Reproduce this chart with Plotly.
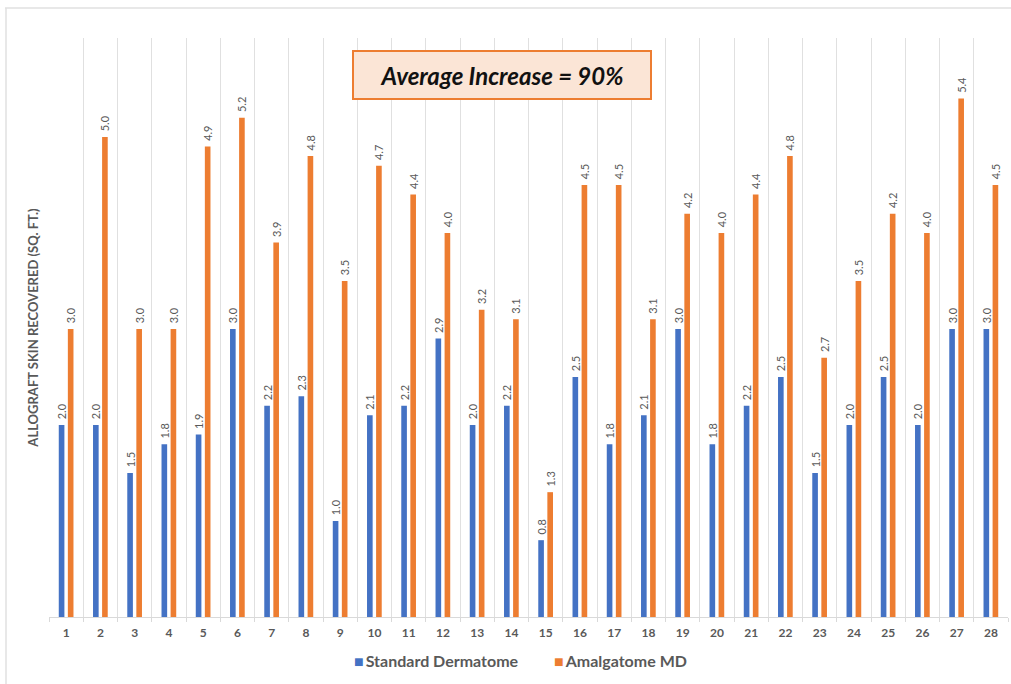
import plotly.graph_objects as go

# Case numbers and allograft area recovered (sq. ft.)
cases = list(range(1, 29))
standard_dermatome = [2.0, 2.0, 1.5, 1.8, 1.9, 3.0, 2.2, 2.3, 1.0, 2.1, 2.2, 2.9, 2.0, 2.2,
                      0.8, 2.5, 1.8, 2.1, 3.0, 1.8, 2.2, 2.5, 1.5, 2.0, 2.5, 2.0, 3.0, 3.0]
amalgatome_md = [3.0, 5.0, 3.0, 3.0, 4.9, 5.2, 3.9, 4.8, 3.5, 4.7, 4.4, 4.0, 3.2, 3.1,
                 1.3, 4.5, 4.5, 3.1, 4.2, 4.0, 4.4, 4.8, 2.7, 3.5, 4.2, 4.0, 5.4, 4.5]

series_names = ["Standard Dermatome", "Amalgatome MD"]
series_colors = ["#4472C4", "#ED7D31"]

W, H = 1011, 684
ML, MR, MT, MB = 49, 3, 38, 67
PW, PH = W - ML - MR, H - MT - MB

FONT = "Lato"
GREY = "#595959"


def px_x(x):
    return (x - ML) / PW


def px_y(y):
    return (H - MB - y) / PH


label_font = dict(family=FONT, size=11, color=GREY)
# leading no-break spaces lift the rotated value labels off the bar tops
label_template = "\u00a0\u00a0%{y:.1f}"

fig = go.Figure()
for name, color, values in zip(series_names, series_colors,
                               [standard_dermatome, amalgatome_md]):
    fig.add_trace(go.Bar(
        x=cases, y=values, name=name,
        marker=dict(color=color, line=dict(width=0)),
        texttemplate=label_template, textposition="outside", textangle=-90,
        textfont=label_font, constraintext="none", cliponaxis=False,
        showlegend=False,
    ))

annotations = [
    dict(
        text="<b><i>Average Increase = 90%</i></b>",
        xref="paper", yref="paper", x=px_x(502), y=px_y(75),
        xanchor="center", yanchor="middle", showarrow=False,
        width=296, height=46,
        bgcolor="#FBE5D6", bordercolor="#ED7D31", borderwidth=2, borderpad=0,
        font=dict(family=FONT, size=24, color="#111111"),
    ),
]

# legend row: coloured square followed by the series name
legend_centres = [436, 620]
for name, color, cx in zip(series_names, series_colors, legend_centres):
    annotations.append(dict(
        text=f"<span style='color:{color}'>■</span>\u2009<b>{name}</b>",
        xref="paper", yref="paper", x=px_x(cx), y=px_y(660),
        xanchor="center", yanchor="middle", showarrow=False,
        font=dict(family=FONT, size=16, color=GREY),
    ))

fig.update_layout(
    width=W, height=H,
    margin=dict(l=ML, r=MR, t=MT, b=MB),
    paper_bgcolor="white", plot_bgcolor="white",
    barmode="group", bargap=0.47, bargroupgap=0.38,
    font=dict(family=FONT, color=GREY),
    showlegend=False,
    xaxis=dict(
        range=[0.5, 28.5], tickmode="array", tickvals=cases,
        ticktext=[f"<b>{c}</b>" for c in cases],
        tickfont=dict(family=FONT, size=12, color=GREY),
        ticklabelstandoff=5,
        showgrid=False, zeroline=False,
        showline=True, linecolor="#d9d9d9", linewidth=1,
        ticks="", ticklen=0,
        minor=dict(tick0=0.5, dtick=1, showgrid=True, gridcolor="#e0e0e0",
                   gridwidth=1, ticks="outside", ticklen=4, tickcolor="#d9d9d9"),
    ),
    yaxis=dict(
        range=[0, 6.03], showgrid=False, zeroline=False,
        showticklabels=False, showline=False, ticks="",
        title=dict(text="<b>ALLOGRAFT SKIN RECOVERED (SQ. FT.)</b>",
                   font=dict(family=FONT, size=13, color=GREY), standoff=6),
    ),
    annotations=annotations,
    shapes=[
        # light frame around the chart
        dict(type="line", xref="paper", yref="paper",
             x0=px_x(5), x1=px_x(1011), y0=px_y(8), y1=px_y(8),
             line=dict(color="#e0e0e0", width=1.5)),
        dict(type="line", xref="paper", yref="paper",
             x0=px_x(6), x1=px_x(6), y0=px_y(8), y1=px_y(684),
             line=dict(color="#e0e0e0", width=1.5)),
    ],
)

fig.write_html("out.html")
